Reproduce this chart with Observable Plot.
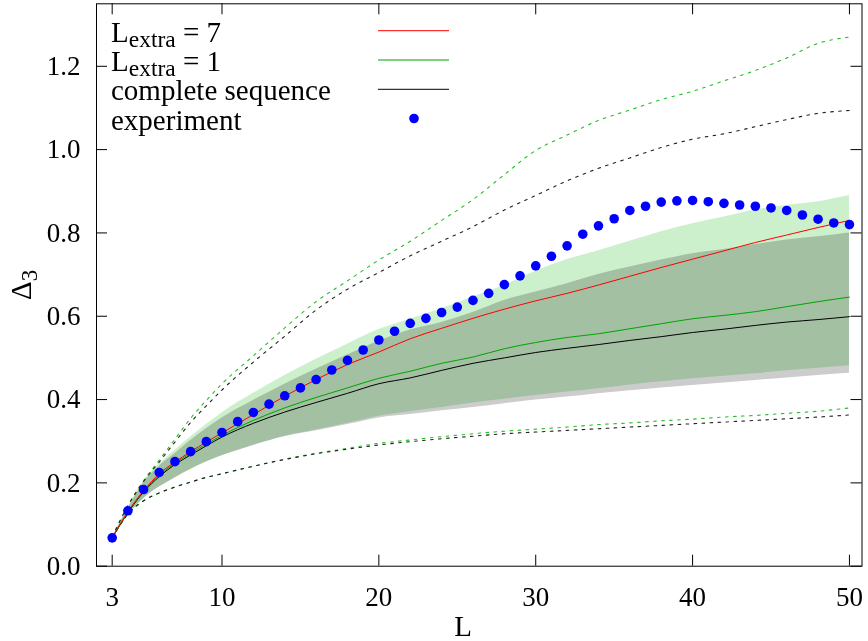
<!DOCTYPE html>
<html>
<head>
<meta charset="utf-8">
<script src="https://cdn.jsdelivr.net/npm/d3@7"></script>
<script src="https://cdn.jsdelivr.net/npm/@observablehq/plot@0.6"></script>
<style>
  html, body { margin: 0; padding: 0; background: #ffffff; }
</style>
</head>
<body>
<div id="chart"></div>
<script>
// ---- data ----
const Lsub = [3,4,5,6,7,8,9,10,12,14,16,18,20,22,24,26,28,30,32,34,36,38,40,42,44,46,48,50];

const lineExtra7 = [0.068,0.131,0.181,0.222,0.250,0.275,0.298,0.320,0.364,0.408,0.448,0.484,0.514,0.546,0.571,0.595,0.617,0.637,0.655,0.675,0.696,0.717,0.737,0.757,0.777,0.795,0.813,0.830];
const lineExtra1 = [0.068,0.129,0.180,0.218,0.247,0.271,0.293,0.314,0.350,0.380,0.405,0.428,0.451,0.468,0.487,0.502,0.522,0.537,0.549,0.558,0.570,0.582,0.594,0.602,0.611,0.623,0.635,0.646];
const lineComplete = [0.068,0.128,0.178,0.215,0.244,0.267,0.289,0.310,0.343,0.370,0.393,0.415,0.438,0.452,0.470,0.487,0.500,0.513,0.523,0.532,0.542,0.551,0.561,0.569,0.578,0.586,0.592,0.599];

const bandExtra1Hi = [0.068,0.140,0.205,0.245,0.278,0.310,0.340,0.368,0.415,0.458,0.497,0.533,0.568,0.593,0.618,0.646,0.674,0.708,0.736,0.757,0.780,0.803,0.822,0.838,0.855,0.866,0.875,0.890];
const bandExtra1Lo = [0.068,0.122,0.162,0.190,0.212,0.232,0.250,0.265,0.290,0.312,0.327,0.343,0.360,0.371,0.381,0.392,0.401,0.410,0.418,0.426,0.435,0.443,0.450,0.456,0.462,0.469,0.475,0.481];
const bandCompleteHi = [0.068,0.138,0.200,0.240,0.270,0.302,0.330,0.356,0.398,0.437,0.473,0.507,0.540,0.567,0.585,0.609,0.638,0.658,0.678,0.700,0.718,0.735,0.750,0.760,0.772,0.783,0.791,0.800];
const bandCompleteLo = [0.068,0.122,0.162,0.190,0.212,0.232,0.250,0.265,0.290,0.311,0.325,0.340,0.356,0.364,0.373,0.381,0.390,0.399,0.406,0.414,0.421,0.428,0.434,0.440,0.446,0.452,0.458,0.463];

const extra1Max = [0.070,0.145,0.205,0.255,0.305,0.355,0.398,0.438,0.505,0.572,0.635,0.685,0.735,0.780,0.830,0.880,0.940,0.998,1.035,1.070,1.095,1.120,1.140,1.165,1.190,1.220,1.255,1.270];
const extra1Min = [0.068,0.125,0.157,0.176,0.190,0.202,0.213,0.222,0.240,0.257,0.271,0.283,0.295,0.303,0.311,0.318,0.324,0.329,0.334,0.340,0.344,0.349,0.353,0.358,0.362,0.367,0.372,0.380];
const completeMax = [0.070,0.145,0.203,0.250,0.298,0.345,0.385,0.423,0.490,0.552,0.615,0.665,0.705,0.745,0.780,0.815,0.855,0.890,0.925,0.955,0.980,1.005,1.025,1.038,1.055,1.072,1.087,1.094];
const completeMin = [0.068,0.125,0.157,0.176,0.190,0.202,0.213,0.222,0.240,0.256,0.270,0.281,0.291,0.299,0.306,0.312,0.318,0.322,0.326,0.330,0.334,0.338,0.342,0.346,0.350,0.354,0.358,0.363];

const Lexp = d3.range(3, 51);
const experiment = [0.068,0.133,0.184,0.225,0.251,0.275,0.299,0.321,0.347,0.369,0.389,0.409,0.428,0.448,0.471,0.494,0.519,0.543,0.564,0.583,0.595,0.609,0.622,0.638,0.655,0.676,0.697,0.721,0.744,0.769,0.797,0.817,0.834,0.854,0.864,0.874,0.877,0.878,0.875,0.871,0.867,0.864,0.860,0.854,0.843,0.833,0.824,0.820];

const xTicks = [3,10,20,30,40,50];
const yTicks = [0,0.2,0.4,0.6,0.8,1.0,1.2];

// ---- tables ----
const rows = Lsub.map((L,i) => ({
  L,
  r7: lineExtra7[i], g1: lineExtra1[i], cs: lineComplete[i],
  gHi: bandExtra1Hi[i], gLo: bandExtra1Lo[i],
  cHi: bandCompleteHi[i], cLo: bandCompleteLo[i],
  gMax: extra1Max[i], gMin: extra1Min[i],
  cMax: completeMax[i], cMin: completeMin[i]
}));
const exp = Lexp.map((L,i) => ({L, v: experiment[i]}));

// ---- layout ----
const W = 868, H = 641;
const mL = 96, mR = 6.5, mT = 3.3, mB = 75.3;
const fw = W - mL - mR, fh = H - mT - mB;
const tickLen = 11;
const FONT = "Liberation Serif, Times New Roman, serif";

const C = {
  red: "#ff0000", green: "#00a400", black: "#000000",
  gDot: "#22c022", kDot: "#222222",
  gBand: "#ccf0cc", kBand: "#cccccc", blue: "#0000ff"
};
const dash = "2.6,5.4";

const svg = Plot.plot({
  width: W, height: H,
  marginLeft: mL, marginRight: mR, marginTop: mT, marginBottom: mB,
  style: {fontFamily: FONT, fontSize: "27px", background: "white", color: "black", overflow: "visible"},
  x: {domain: [2, 50.8]},
  y: {domain: [0, 1.35]},
  marks: [
    Plot.areaY(rows, {x: "L", y1: "cLo", y2: "cHi", fill: C.kBand, curve: "monotone-x"}),
    Plot.areaY(rows, {x: "L", y1: "gLo", y2: "gHi", fill: C.gBand, curve: "monotone-x", mixBlendMode: "multiply"}),
    Plot.lineY(rows, {x: "L", y: "gMax", stroke: C.gDot, strokeWidth: 1.1, strokeDasharray: dash, curve: "monotone-x"}),
    Plot.lineY(rows, {x: "L", y: "gMin", stroke: C.gDot, strokeWidth: 1.1, strokeDasharray: dash, curve: "monotone-x"}),
    Plot.lineY(rows, {x: "L", y: "cMax", stroke: C.kDot, strokeWidth: 1.1, strokeDasharray: dash, curve: "monotone-x"}),
    Plot.lineY(rows, {x: "L", y: "cMin", stroke: C.kDot, strokeWidth: 1.1, strokeDasharray: dash, curve: "monotone-x"}),
    Plot.lineY(rows, {x: "L", y: "cs", stroke: C.black, strokeWidth: 1, curve: "monotone-x"}),
    Plot.lineY(rows, {x: "L", y: "g1", stroke: C.green, strokeWidth: 1, curve: "monotone-x"}),
    Plot.lineY(rows, {x: "L", y: "r7", stroke: C.red, strokeWidth: 1, curve: "monotone-x"}),
    Plot.dot(exp, {x: "L", y: "v", r: 4.8, fill: C.blue, stroke: "none"}),
    Plot.frame({stroke: "black", strokeWidth: 1}),
    // inward ticks on all four sides
    Plot.ruleY(yTicks, {y: d => d, insetRight: fw - tickLen, stroke: "black"}),
    Plot.ruleY(yTicks, {y: d => d, insetLeft: fw - tickLen, stroke: "black"}),
    Plot.ruleX(xTicks, {x: d => d, insetTop: fh - tickLen, stroke: "black"}),
    Plot.ruleX(xTicks, {x: d => d, insetBottom: fh - tickLen, stroke: "black"}),
    Plot.axisX(xTicks, {tickSize: 0, tickPadding: 21, fontSize: 27, label: null}),
    Plot.axisY(yTicks, {tickSize: 0, tickPadding: 16, fontSize: 27, label: null, tickFormat: d3.format(".1f")})
  ]
});

document.getElementById("chart").appendChild(svg);

// ---- axis labels and legend (annotation) ----
const s = d3.select(svg);
s.append("text")
  .attr("x", 463).attr("y", 636)
  .attr("text-anchor", "middle")
  .attr("font-family", FONT).attr("font-size", 29)
  .attr("fill", "black")
  .text("L");

const yl = s.append("text")
  .attr("transform", "translate(31,300) rotate(-90)")
  .attr("text-anchor", "start")
  .attr("font-family", FONT).attr("font-size", 29).attr("fill", "black");
yl.append("tspan").text("Δ");
yl.append("tspan").attr("font-size", 23).attr("dy", 6).text("3");

const leg = s.append("g")
  .attr("text-anchor", "start")
  .attr("font-family", FONT).attr("font-size", 29).attr("fill", "black");
const baselines = [41.7, 71, 100.3, 129.5];
const labels = [
  {main: "L", sub: "extra", rest: " = 7", color: C.red, type: "line"},
  {main: "L", sub: "extra", rest: " = 1", color: C.green, type: "line"},
  {main: "complete sequence", color: C.black, type: "line"},
  {main: "experiment", color: C.blue, type: "dot"}
];
labels.forEach((d, i) => {
  const t = leg.append("text").attr("x", 111).attr("y", baselines[i]).attr("text-anchor", "start");
  t.append("tspan").text(d.main);
  if (d.sub) {
    t.append("tspan").attr("font-size", 23.5).attr("dy", 5).text(d.sub);
    t.append("tspan").attr("dy", -5).text(d.rest);
  }
  const cy = baselines[i] - 11;
  if (d.type === "line") {
    leg.append("line").attr("x1", 378).attr("x2", 449).attr("y1", cy).attr("y2", cy)
      .attr("stroke", d.color).attr("stroke-width", 1);
  } else {
    leg.append("circle").attr("cx", 414).attr("cy", cy).attr("r", 4.8).attr("fill", d.color);
  }
});
</script>
</body>
</html>
